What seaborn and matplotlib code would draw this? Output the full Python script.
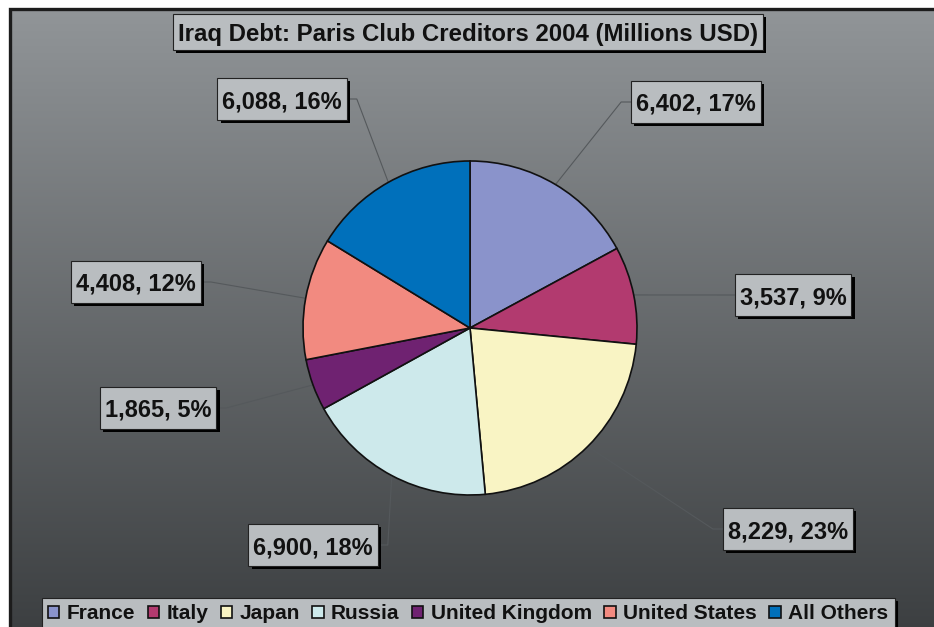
import numpy as np
import matplotlib
matplotlib.use("Agg")
import matplotlib.pyplot as plt
import matplotlib.patheffects as pe
from matplotlib.patches import Rectangle
import seaborn as sns

creditors = ["France", "Italy", "Japan", "Russia", "United Kingdom",
             "United States", "All Others"]
debt_musd = [6402, 3537, 8229, 6900, 1865, 4408, 6088]
share_labels = ["17%", "9%", "23%", "18%", "5%", "12%", "16%"]
slice_colors = ["#8a93cb", "#b23a6f", "#f9f4c4", "#cde9eb", "#6f2271",
                "#f28a80", "#0070bb"]

sns.set_theme(style="white")
plt.rcParams["font.family"] = ["Liberation Sans", "DejaVu Sans"]

W, H = 934, 627
fig = plt.figure(figsize=(W / 100, H / 100), dpi=100)
fig.patch.set_facecolor("white")
ax = fig.add_axes([0, 0, 1, 1])

palette = sns.color_palette(slice_colors)

# background panel with a vertical grey gradient
top = np.array([0.568, 0.584, 0.596])
bot = np.array([0.235, 0.247, 0.255])
g = np.linspace(0, 1, 256)[:, None, None]
img = top + (bot - top) * g
ax.imshow(img, extent=(10, W + 5, -5, H - 9), aspect="auto", zorder=0,
          interpolation="bilinear")
ax.add_patch(Rectangle((9.5, -10), W + 20, H - 8.5 + 10, fill=False,
                       edgecolor="#1c1c1c", linewidth=2.4, zorder=0.2))

# pie
cx, cy, r = 470, 299, 167
wedges, _ = ax.pie(debt_musd, colors=palette, startangle=90, counterclock=False,
                   radius=r, center=(cx, cy),
                   wedgeprops=dict(edgecolor="#111111", linewidth=1.2))
for w in wedges:
    w.set_zorder(2)
ax.set_xlim(0, W)
ax.set_ylim(0, H)
ax.set_aspect("auto")
ax.set_axis_off()

box_face = "#b9bdc0"
shadow = [pe.SimplePatchShadow(offset=(2.4, -2.4), shadow_rgbFace="black", alpha=1.0),
          pe.Normal()]

fig.canvas.draw()
renderer = fig.canvas.get_renderer()
inv = ax.transData.inverted()


def boxed_text(x, y_from_top, s, size, padx, height):
    """Text centred at (x, y) inside a flat grey box with a drop shadow."""
    t = ax.text(x, H - y_from_top, s, ha="center", va="center_baseline",
                fontsize=size, fontweight="bold", color="#111111", zorder=6)
    bb = t.get_window_extent(renderer)
    (x0, _), (x1, _) = inv.transform([[bb.x0, bb.y0], [bb.x1, bb.y1]])
    rect = Rectangle((x0 - padx, H - y_from_top - height / 2),
                     (x1 - x0) + 2 * padx, height, facecolor=box_face,
                     edgecolor="#222222", linewidth=0.8, zorder=5)
    rect.set_path_effects(shadow)
    ax.add_patch(rect)
    return rect


# label box centres (x, y from top)
label_pos = [(696, 102), (793, 295), (788, 529), (313, 545),
             (158, 408), (136, 282), (282, 99)]

boxes = []
for val, pct, (lx, ly) in zip(debt_musd, share_labels, label_pos):
    boxes.append(boxed_text(lx, ly, f"{val:,}, {pct}", 17, 5, 42))

boxed_text(468, 32, "Iraq Debt: Paris Club Creditors 2004 (Millions USD)",
           17.3, 5, 36)

# leader lines from slice mid-edge to label box
for w, b in zip(wedges, boxes):
    mid = np.deg2rad((w.theta1 + w.theta2) / 2)
    px, py = cx + r * np.cos(mid), cy + r * np.sin(mid)
    x0, y0 = b.get_x(), b.get_y()
    x1 = x0 + b.get_width()
    ym = y0 + b.get_height() / 2
    if (x0 + x1) / 2 > cx:
        sx, stub = x0, x0 - 10
    else:
        sx, stub = x1, x1 + 10
    ax.plot([px, stub, sx], [py, ym, ym], color="#55595c", linewidth=0.8,
            zorder=1)

leg = ax.legend(wedges, creditors, loc="upper center",
                bbox_to_anchor=(468 / W, 1 - 598 / H), bbox_transform=fig.transFigure,
                ncol=7, frameon=True, fancybox=False,
                shadow={"color": "black", "alpha": 1.0},
                handlelength=0.55, handleheight=0.55, handletextpad=0.35,
                columnspacing=0.6, borderpad=0.3, borderaxespad=0,
                prop=dict(weight="bold", size=15))
leg.get_frame().set_facecolor(box_face)
leg.get_frame().set_edgecolor("#222222")
leg.get_frame().set_linewidth(0.8)
for txt in leg.get_texts():
    txt.set_color("#111111")

fig.savefig("out.png", dpi=100, facecolor="white")
